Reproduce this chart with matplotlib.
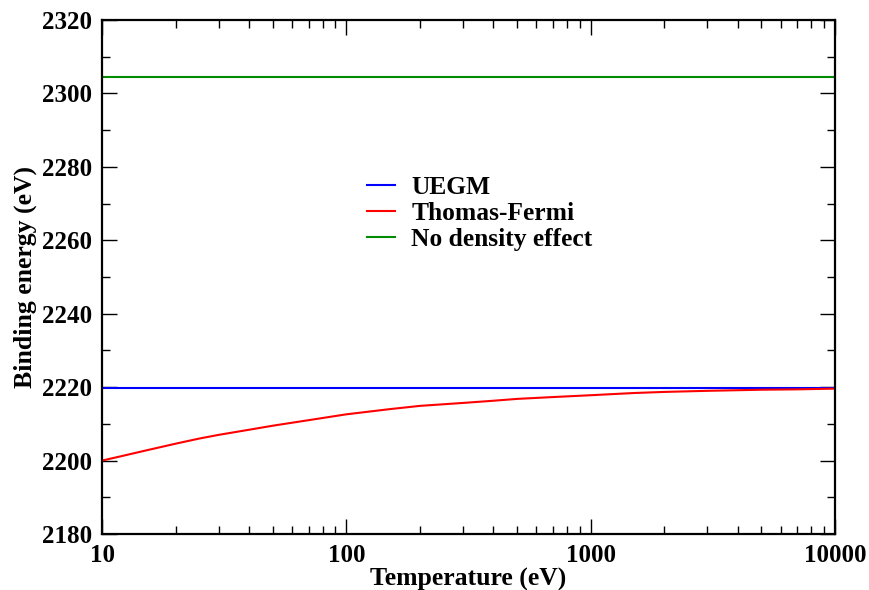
import matplotlib
matplotlib.use("Agg")
import matplotlib.pyplot as plt
from matplotlib.ticker import LogLocator, MultipleLocator, FixedLocator, FixedFormatter
import numpy as np

# values
temperature = [10, 12, 15, 20, 25, 30, 40, 50, 70, 100, 150, 200, 300, 400,
               500, 700, 1000, 1500, 2000, 3000, 5000, 7000, 10000]
thomas_fermi = [2200.0, 2201.2, 2202.7, 2204.6, 2206.0, 2207.0, 2208.4,
                2209.5, 2211.0, 2212.6, 2214.0, 2214.9, 2215.7, 2216.3,
                2216.8, 2217.3, 2217.8, 2218.4, 2218.7, 2219.0, 2219.3,
                2219.4, 2219.6]
uegm = [2219.9] * len(temperature)
no_density = [2304.6] * len(temperature)

x_ticks = [10, 100, 1000, 10000]
x_tick_labels = ["10", "100", "1000", "10000"]

plt.rcParams["font.family"] = ["Liberation Serif", "DejaVu Serif"]
plt.rcParams["font.weight"] = "bold"

fig = plt.figure(figsize=(8.69, 5.90), dpi=100)
ax = fig.add_axes([0.1174, 0.0949, 0.9609 - 0.1174, 0.9661 - 0.0949])

ax.plot(temperature, uegm, color="#0000ff", linewidth=1.5, label="UEGM")
ax.plot(temperature, thomas_fermi, color="#ff0000", linewidth=1.5, label="Thomas-Fermi")
ax.plot(temperature, no_density, color="#008b00", linewidth=1.5, label="No density effect")

ax.set_xscale("log")
ax.set_xlim(10, 10000)
ax.set_ylim(2180, 2320)

ax.xaxis.set_major_locator(FixedLocator(x_ticks))
ax.xaxis.set_major_formatter(FixedFormatter(x_tick_labels))
ax.xaxis.set_minor_locator(LogLocator(base=10, subs=np.arange(2, 10)))
ax.xaxis.set_minor_formatter(FixedFormatter([]))
ax.yaxis.set_major_locator(MultipleLocator(20))
ax.yaxis.set_minor_locator(MultipleLocator(10))

ax.tick_params(which="both", direction="in", top=True, right=True, width=1.0)
ax.tick_params(which="major", length=11, labelsize=18, pad=7)
ax.tick_params(which="minor", length=5.5)
for lab in ax.get_xticklabels() + ax.get_yticklabels():
    lab.set_fontweight("bold")
for sp in ax.spines.values():
    sp.set_linewidth(1.6)

ax.set_xlabel("Temperature (eV)", fontsize=18.5, fontweight="bold", labelpad=1)
ax.set_ylabel("Binding energy (eV)", fontsize=18.5, fontweight="bold", labelpad=4)

leg = ax.legend(loc="upper left", bbox_to_anchor=(0.3615, 0.697), frameon=False,
                fontsize=18.4, handlelength=1.1, handletextpad=0.63,
                labelspacing=0.12, borderaxespad=0, borderpad=0)
for t in leg.get_texts():
    t.set_fontweight("bold")

fig.savefig("out.png", dpi=100)
